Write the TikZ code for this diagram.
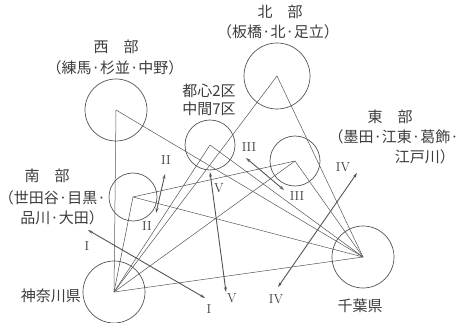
\documentclass[tikz,border=0pt]{standalone}
\usepackage{fontspec}
\newfontfamily\jpfont{Noto Sans CJK JP}
\usetikzlibrary{arrows.meta}
\definecolor{senline}{RGB}{85,85,85}
\definecolor{sentext}{RGB}{60,60,60}

\begin{document}
\begin{tikzpicture}[x=1pt, y=-1pt, >={Stealth[length=5pt, width=3pt]},
  region/.style={circle, draw=senline, line width=0.7pt, minimum size=#1, inner sep=0pt},
  link/.style={senline, line width=0.5pt},
  flow/.style={<->, senline, line width=0.9pt},
  jp/.style={text=sentext, font=\jpfont\fontsize{15}{17}\selectfont, inner sep=0pt},
  num/.style={text=sentext, font=\fontsize{13}{13}\selectfont, inner sep=0pt}]

\useasboundingbox (0,0) rectangle (460,323);

% --- Regiones (círculos) ---
\node[region=62pt] (west) at (116,110) {};
\node[region=66pt] (north) at (277,76) {};
\node[region=50pt] (toshin) at (210,145) {};
\node[region=50pt] (east) at (295,161) {};
\node[region=48pt] (south) at (133,197) {};
\node[region=62pt] (kana) at (114,292) {};
\node[region=62pt] (chiba) at (363,257) {};

% --- Enlaces ---
\foreach \r in {west, north, toshin, east, south, chiba} {
    \draw[link] (kana.center) -- (\r.center);
}
\foreach \r in {west, north, toshin, east, south} {
    \draw[link] (chiba.center) -- (\r.center);
}
\draw[link] (south.center) -- (east.center);

% --- Flechas I--V ---
\coordinate (i1) at (88,230);   \coordinate (i2) at (205,298);
\coordinate (ii1) at (156,213); \coordinate (ii2) at (165,174);
\coordinate (iii1) at (246,158); \coordinate (iii2) at (284,190);
\coordinate (iv1) at (278,287); \coordinate (iv2) at (357,173);
\coordinate (v1) at (210,172);  \coordinate (v2) at (226,292);
\draw[flow] (i1) -- (i2);
\draw[flow] (ii1) -- (ii2);
\draw[flow] (iii1) -- (iii2);
\draw[flow] (iv1) -- (iv2);
\draw[flow] (v1) -- (v2);

\node[num] (la) at (87,246) {I};
\node[num] (lb) at (209,309) {I};
\node[num] (lc) at (166,160) {II};
\node[num] (ld) at (147,226) {II};
\node[num] (le) at (249,147) {III};
\node[num] (lf) at (297,196) {III};
\node[num] (lg) at (343,167) {IV};
\node[num] (lh) at (276,299) {IV};
\node[num] (lk) at (219,188) {V};
\node[num] (lm) at (232,298) {V};

% --- Nombres de las regiones ---
\node[jp] (tw) at (116,47) {西\hspace{1em}部};
\node[jp] (tw2) at (115,68) {（練馬·杉並·中野）};
\node[jp] (tn) at (280,12) {北\hspace{1em}部};
\node[jp] (tn2) at (278,32) {（板橋·北·足立）};
\node[jp] (tc) at (209,91) {都心2区};
\node[jp] (tc2) at (209,109) {中間7区};
\node[jp] (te) at (390,117) {東\hspace{1em}部};
\node[jp, anchor=east] (te2) at (459,137) {（墨田·江東·葛飾·};
\node[jp, anchor=east] (te3) at (455,157) {江戸川）};
\node[jp] (ts) at (47,176) {南\hspace{1em}部};
\node[jp, anchor=east] (ts2) at (106,198) {（世田谷·目黒·};
\node[jp, anchor=east] (ts3) at (104,218) {品川·大田）};
\node[jp, anchor=east] (tk) at (81,296) {神奈川県};
\node[jp] (tb) at (360,306) {千葉県};

\end{tikzpicture}
\end{document}
